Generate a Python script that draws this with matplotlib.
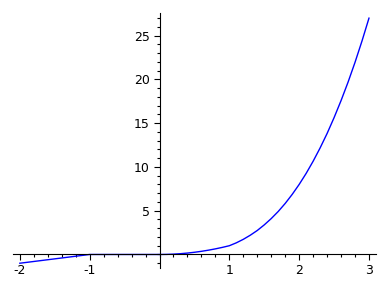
import matplotlib
matplotlib.use("Agg")
import matplotlib.pyplot as plt
from matplotlib.ticker import MultipleLocator, FixedLocator

# Puntos (tramos: recta, cero, parábola, cúbica)
x_vals = [-2.0, -1.0, 0.0, 0.1, 0.2, 0.3, 0.4, 0.5, 0.6, 0.7, 0.8, 0.9, 1.0,
          1.1, 1.2, 1.3, 1.4, 1.5, 1.6, 1.7, 1.8, 1.9, 2.0,
          2.1, 2.2, 2.3, 2.4, 2.5, 2.6, 2.7, 2.8, 2.9, 3.0]
y_vals = [-1.0, 0.0, 0.0, 0.01, 0.04, 0.09, 0.16, 0.25, 0.36, 0.49, 0.64, 0.81, 1.0,
          1.33, 1.73, 2.20, 2.74, 3.38, 4.10, 4.91, 5.83, 6.86, 8.0,
          9.26, 10.65, 12.17, 13.82, 15.63, 17.58, 19.68, 21.95, 24.39, 27.0]

x_ticks = [-2, -1, 1, 2, 3]
y_ticks = [5, 10, 15, 20, 25]

fig = plt.figure(figsize=(3.9, 2.88), dpi=100)
ax = fig.add_axes([0.033, 0.069, 0.931, 0.885])
ax.plot(x_vals, y_vals, color="blue", linewidth=1.0)

ax.set_xlim(-2.1, 3.1)
ax.set_ylim(-1.56, 27.56)

ax.spines["left"].set_position(("data", 0))
ax.spines["bottom"].set_position(("data", 0))
ax.spines["top"].set_visible(False)
ax.spines["right"].set_visible(False)

ax.xaxis.set_major_locator(FixedLocator(x_ticks))
ax.xaxis.set_minor_locator(MultipleLocator(0.2))
ax.yaxis.set_major_locator(FixedLocator(y_ticks))
ax.yaxis.set_minor_locator(MultipleLocator(1))
ax.set_xticklabels([str(t) for t in x_ticks])
ax.set_yticklabels([str(t) for t in y_ticks])

ax.tick_params(which="major", direction="out", length=4, width=0.8, labelsize=9, pad=3)
ax.tick_params(which="minor", direction="out", length=2.5, width=0.8)

fig.savefig("out.png", dpi=100)
plt.close(fig)
